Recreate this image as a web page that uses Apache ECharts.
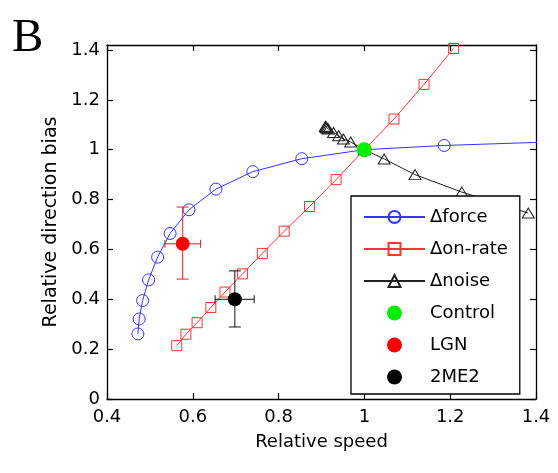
<!DOCTYPE html>
<html>
<head>
<meta charset="utf-8">
<script src="https://cdn.jsdelivr.net/npm/echarts@6/dist/echarts.min.js"></script>
<style>html,body{margin:0;padding:0;background:#fff}#c{width:558px;height:473px}</style>
</head>
<body>
<div id="c"></div>
<script>
// ---- data ----
const xTicks = [0.4, 0.6, 0.8, 1.0, 1.2, 1.4];
const yTicks = [0, 0.2, 0.4, 0.6, 0.8, 1.0, 1.2, 1.4];

const forceX = [0.472, 0.475, 0.483, 0.497, 0.518, 0.547, 0.591, 0.654, 0.740, 0.854, 1.0, 1.186, 1.45];
const forceY = [0.261, 0.321, 0.395, 0.478, 0.569, 0.664, 0.759, 0.842, 0.912, 0.964, 1.0, 1.017, 1.032];

const onrateX = [0.5625, 0.584, 0.610, 0.642, 0.675, 0.716, 0.762, 0.813, 0.872, 0.934, 1.0, 1.069, 1.139, 1.208];
const onrateY = [0.214, 0.260, 0.306, 0.367, 0.429, 0.502, 0.584, 0.673, 0.772, 0.880, 1.0, 1.123, 1.262, 1.406];

const noiseX = [0.909, 0.910, 0.911, 0.913, 0.916, 0.928, 0.940, 0.951, 0.968, 1.0, 1.046, 1.118, 1.227, 1.382];
const noiseY = [1.094, 1.092, 1.089, 1.086, 1.083, 1.069, 1.056, 1.043, 1.031, 1.0, 0.963, 0.900, 0.830, 0.746];

const controlPt = [1.0, 1.0];
// [x, y, xLow, xHigh, yLow, yHigh]
const lgnPt = [0.5765, 0.6225, 0.535, 0.618, 0.481, 0.770];
const me2Pt = [0.698, 0.400, 0.652, 0.743, 0.289, 0.514];

const legendNames = ['\u0394force', '\u0394on-rate', '\u0394noise', 'Control', 'LGN', '2ME2'];

// ---- build ----
const zip = (a, b) => a.map((v, i) => [v, b[i]]);
const FONT = 'DejaVu Sans';
const BLUE = '#3535ff', RED = '#ff3535', DARK = '#222222';

function errRender(params, api) {
  const x = api.value(0), y = api.value(1);
  const c = api.coord([x, y]);
  const yl = api.coord([x, api.value(4)])[1];
  const yh = api.coord([x, api.value(5)])[1];
  const xl = api.coord([api.value(2), y])[0];
  const xh = api.coord([api.value(3), y])[0];
  const st = { stroke: api.visual('color'), lineWidth: 1 };
  const cap = 6, hc = 4;
  const L = (x1, y1, x2, y2) => ({ type: 'line', shape: { x1, y1, x2, y2 }, style: st });
  return {
    type: 'group',
    children: [
      L(c[0], yl, c[0], yh),
      L(c[0] - cap, yl, c[0] + cap, yl),
      L(c[0] - cap, yh, c[0] + cap, yh),
      L(xl, c[1], xh, c[1]),
      L(xl, c[1] - hc, xl, c[1] + hc),
      L(xh, c[1] - hc, xh, c[1] + hc)
    ]
  };
}

const axisCommon = {
  type: 'value',
  axisLine: { show: true, onZero: false, lineStyle: { color: '#000', width: 1.3 } },
  splitLine: { show: false },
  axisTick: { show: true, inside: true, length: 6, lineStyle: { color: '#000', width: 1.2 } }
};

const chart = echarts.init(document.getElementById('c'), null, { renderer: 'canvas' });
chart.setOption({
  animation: false,
  backgroundColor: '#fff',
  grid: { left: 107, right: 22, top: 45, bottom: 74 },
  xAxis: [
    Object.assign({}, axisCommon, {
      position: 'bottom', min: 0.4, max: 1.4, interval: 0.2,
      axisTick: Object.assign({}, axisCommon.axisTick, { customValues: xTicks }),
      axisLabel: { customValues: xTicks, margin: 9, color: '#000', fontFamily: FONT, fontSize: 18 },
      name: 'Relative speed', nameLocation: 'middle', nameGap: 34,
      nameTextStyle: { color: '#000', fontFamily: FONT, fontSize: 18 }
    }),
    Object.assign({}, axisCommon, {
      position: 'top', min: 0.4, max: 1.4, interval: 0.2,
      axisTick: Object.assign({}, axisCommon.axisTick, { customValues: xTicks }),
      axisLabel: { show: false }
    })
  ],
  yAxis: [
    Object.assign({}, axisCommon, {
      position: 'left', min: 0, max: 1.42, interval: 0.2,
      axisTick: Object.assign({}, axisCommon.axisTick, { customValues: yTicks }),
      axisLabel: { customValues: yTicks, margin: 7, color: '#000', fontFamily: FONT, fontSize: 18 },
      name: 'Relative direction bias', nameLocation: 'middle', nameGap: 46,
      nameTextStyle: { color: '#000', fontFamily: FONT, fontSize: 19 }
    }),
    Object.assign({}, axisCommon, {
      position: 'right', min: 0, max: 1.42, interval: 0.2,
      axisTick: Object.assign({}, axisCommon.axisTick, { customValues: yTicks }),
      axisLabel: { show: false }
    })
  ],
  legend: {
    data: legendNames,
    orient: 'vertical',
    left: 351, top: 196,
    padding: [12, 12, 8, 12],
    itemWidth: 61, itemHeight: 15, itemGap: 14,
    backgroundColor: '#fff',
    borderColor: '#000', borderWidth: 1.3,
    textStyle: { color: '#000', fontFamily: FONT, fontSize: 18 },
    selectedMode: false
  },
  graphic: [
    { type: 'text', left: 12, top: 15, style: { text: 'B', font: '47px "Liberation Serif"', fill: '#000' } }
  ],
  series: [
    {
      name: legendNames[0], type: 'line', data: zip(forceX, forceY),
      symbol: 'circle', symbolSize: 12, z: 3,
      lineStyle: { color: BLUE, width: 1 },
      itemStyle: { color: 'rgba(255,255,255,0)', borderColor: BLUE, borderWidth: 1 }
    },
    {
      name: legendNames[1], type: 'line', data: zip(onrateX, onrateY),
      symbol: 'rect', symbolSize: 10, z: 3,
      lineStyle: { color: RED, width: 1 },
      itemStyle: { color: 'rgba(255,255,255,0)', borderColor: RED, borderWidth: 1 }
    },
    {
      name: legendNames[2], type: 'line', data: zip(noiseX, noiseY),
      symbol: 'triangle', symbolSize: [12, 10], z: 3,
      lineStyle: { color: DARK, width: 1 },
      itemStyle: { color: 'rgba(255,255,255,0)', borderColor: DARK, borderWidth: 1 }
    },
    {
      name: 'errLGN', type: 'custom', renderItem: errRender, z: 4,
      data: [lgnPt], encode: { x: 0, y: 1 }, itemStyle: { color: '#ff1a1a' }
    },
    {
      name: 'err2ME2', type: 'custom', renderItem: errRender, z: 4,
      data: [me2Pt], encode: { x: 0, y: 1 }, itemStyle: { color: '#111' }
    },
    {
      name: legendNames[3], type: 'scatter', data: [controlPt],
      symbol: 'circle', symbolSize: 15, z: 5, itemStyle: { color: '#00ee00', opacity: 1 }
    },
    {
      name: legendNames[4], type: 'scatter', data: [lgnPt.slice(0, 2)],
      symbol: 'circle', symbolSize: 14, z: 5, itemStyle: { color: '#ff0000', opacity: 1 }
    },
    {
      name: legendNames[5], type: 'scatter', data: [me2Pt.slice(0, 2)],
      symbol: 'circle', symbolSize: 14, z: 5, itemStyle: { color: '#000', opacity: 1 }
    }
  ]
});
</script>
</body>
</html>
